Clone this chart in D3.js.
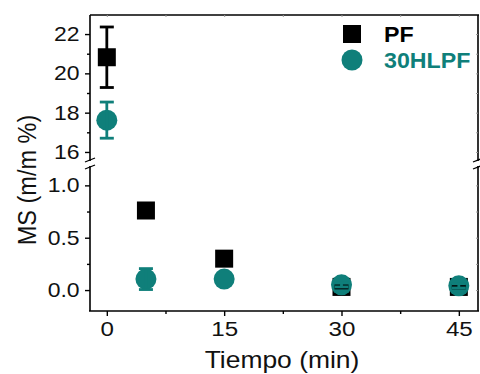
<!DOCTYPE html>
<html>
<head>
<meta charset="utf-8">
<script src="https://cdn.jsdelivr.net/npm/d3@7"></script>
<style>
  html, body { margin: 0; padding: 0; background: #fff; }
  svg text { font-family: "Liberation Sans", Arial, sans-serif; }
</style>
</head>
<body>
<svg id="chart" width="480" height="374"></svg>
<script>
// Sampling times (min)
const times = [0, 5, 15, 30, 45];
// MS (m/m %) per sample, with standard deviations
const pfValues    = [20.82, 0.76, 0.30, 0.03, 0.03];
const pfErrors    = [1.54, 0, 0, 0.01, 0.01];
const hlpfValues  = [17.62, 0.105, 0.105, 0.05, 0.04];
const hlpfErrors  = [0.92, 0.10, 0, 0.02, 0.02];
const seriesNames = ["PF", "30HLPF"];

const xTicks = [0, 15, 30, 45];
const xMinor = [7.5, 22.5, 37.5];
const yTopTicks = [16, 18, 20, 22];
const yTopMinor = [17, 19, 21];
const yBotTicks = [0, 0.5, 1.0];
const yBotMinor = [0.25, 0.75];

const BLACK = "#000";
const TEAL = "#0f7f7a";
const WIDE = "scale(1.15,1)"; // slightly widened lettering

const svg = d3.select("#chart");
const L = 90, R = 478, T = 15, B = 311;
const breakTop = 161, breakBot = 166;

const x = d3.scaleLinear().domain([-2.15, 47.45]).range([L, R]);
const yTop = d3.scaleLinear().domain([15.54, 22.97]).range([breakTop, T]);
const yBot = d3.scaleLinear().domain([-0.2, 1.185]).range([B, breakBot]);
// values above 5 belong to the upper segment of the broken axis
const yOf = v => v > 5 ? yTop(v) : yBot(v);

// frame
const frame = svg.append("g").attr("stroke", "#000").attr("stroke-width", 1.6).attr("fill", "none");
frame.append("line").attr("x1", L).attr("x2", R + 1).attr("y1", T).attr("y2", T);
frame.append("line").attr("x1", L - 1).attr("x2", R + 1).attr("y1", B).attr("y2", B);
frame.append("line").attr("x1", L).attr("x2", L).attr("y1", T).attr("y2", breakTop);
frame.append("line").attr("x1", L).attr("x2", L).attr("y1", breakBot).attr("y2", B);
frame.append("line").attr("x1", R).attr("x2", R).attr("y1", T).attr("y2", breakTop);
frame.append("line").attr("x1", R).attr("x2", R).attr("y1", breakBot).attr("y2", B);

// break marks
[L, R].forEach(cx => {
  [breakTop - 1, breakBot + 1].forEach(cy => {
    svg.append("line")
      .attr("x1", cx - 5).attr("y1", cy + 2)
      .attr("x2", cx + 5).attr("y2", cy - 2)
      .attr("stroke", "#000").attr("stroke-width", 1.3);
  });
});

// bottom axis
const xAxis = d3.axisBottom(x).tickValues(xTicks).tickSize(5).tickPadding(5).tickFormat(d3.format("d"));
const gx = svg.append("g").attr("transform", `translate(0,${B})`).call(xAxis);
gx.select(".domain").remove();
gx.selectAll(".tick line").attr("stroke-width", 1.4);
gx.selectAll("text").attr("font-size", 21).attr("fill", "#111").attr("transform", WIDE);
svg.append("g").attr("transform", `translate(0,${B})`)
  .call(d3.axisBottom(x).tickValues(xMinor).tickSize(3).tickFormat(""))
  .call(g => g.select(".domain").remove())
  .selectAll(".tick line").attr("stroke-width", 1.4);

// top mirror ticks
svg.append("g").attr("transform", `translate(0,${T})`)
  .call(d3.axisBottom(x).tickValues(xTicks.concat(xMinor)).tickSize(2).tickFormat(""))
  .call(g => g.select(".domain").remove())
  .selectAll(".tick line").attr("stroke", "#999");

// left axes (upper and lower segments)
function leftAxis(scale, major, minor, fmt) {
  const g = svg.append("g").attr("transform", `translate(${L},0)`)
    .call(d3.axisLeft(scale).tickValues(major).tickSize(5).tickPadding(4).tickFormat(fmt));
  g.select(".domain").remove();
  g.selectAll(".tick line").attr("stroke-width", 1.4);
  g.selectAll("text").attr("font-size", 20).attr("fill", "#111").attr("transform", WIDE);
  svg.append("g").attr("transform", `translate(${L},0)`)
    .call(d3.axisLeft(scale).tickValues(minor).tickSize(3).tickFormat(""))
    .call(a => a.select(".domain").remove())
    .selectAll(".tick line").attr("stroke-width", 1.4);
  svg.append("g").attr("transform", `translate(${R},0)`)
    .call(d3.axisRight(scale).tickValues(major.concat(minor)).tickSize(-2).tickFormat(""))
    .call(a => a.select(".domain").remove())
    .selectAll(".tick line").attr("stroke", "#999");
}
leftAxis(yTop, yTopTicks, yTopMinor, d3.format("d"));
leftAxis(yBot, yBotTicks, yBotMinor, d3.format(".1f"));

// axis titles
svg.append("text")
  .attr("transform", `translate(${(L + R) / 2 - 2},368) ${WIDE}`)
  .attr("text-anchor", "middle").attr("font-size", 23).attr("fill", "#111")
  .text("Tiempo (min)");
svg.append("text")
  .attr("transform", `translate(36,180) scale(1.12,1) rotate(-90)`)
  .attr("text-anchor", "middle").attr("font-size", 23.5).attr("fill", "#111")
  .text("MS (m/m %)");

// data rows
const pfRows = times.map((t, i) => ({ t, v: pfValues[i], e: pfErrors[i] }));
const hlRows = times.map((t, i) => ({ t, v: hlpfValues[i], e: hlpfErrors[i] }));

const SQ = 18, RAD = 10.5, CAP = 7;

svg.append("g").selectAll("rect").data(pfRows).join("rect")
  .attr("x", d => x(d.t) - SQ / 2).attr("y", d => yOf(d.v) - SQ / 2)
  .attr("width", SQ).attr("height", SQ).attr("fill", BLACK);

svg.append("g").selectAll("circle").data(hlRows).join("circle")
  .attr("cx", d => x(d.t)).attr("cy", d => yOf(d.v))
  .attr("r", RAD).attr("fill", TEAL);

function errorBars(rows, color, sw) {
  const g = svg.append("g").attr("stroke", color).attr("stroke-width", sw);
  rows.filter(d => d.e > 0).forEach(d => {
    const cx = x(d.t), y1 = yOf(d.v + d.e), y2 = yOf(d.v - d.e);
    g.append("line").attr("x1", cx).attr("x2", cx).attr("y1", y1).attr("y2", y2);
    g.append("line").attr("x1", cx - CAP).attr("x2", cx + CAP).attr("y1", y1).attr("y2", y1);
    g.append("line").attr("x1", cx - CAP).attr("x2", cx + CAP).attr("y1", y2).attr("y2", y2);
  });
}
errorBars(pfRows, BLACK, 2.8);
errorBars(hlRows, TEAL, 2.8);

// legend
const lg = svg.append("g");
const ly = d3.scalePoint().domain(seriesNames).range([34, 60]);
lg.append("rect").attr("x", 343).attr("y", ly("PF") - 9).attr("width", SQ).attr("height", SQ).attr("fill", BLACK);
lg.append("circle").attr("cx", 352).attr("cy", ly("30HLPF")).attr("r", RAD).attr("fill", TEAL);
lg.selectAll("text").data(seriesNames).join("text")
  .attr("transform", d => `translate(384,${ly(d) + 8}) scale(1.08,1)`)
  .attr("font-size", 21.5).attr("font-weight", "bold")
  .attr("fill", (d, i) => i === 0 ? BLACK : TEAL)
  .text(d => d);
</script>
</body>
</html>
